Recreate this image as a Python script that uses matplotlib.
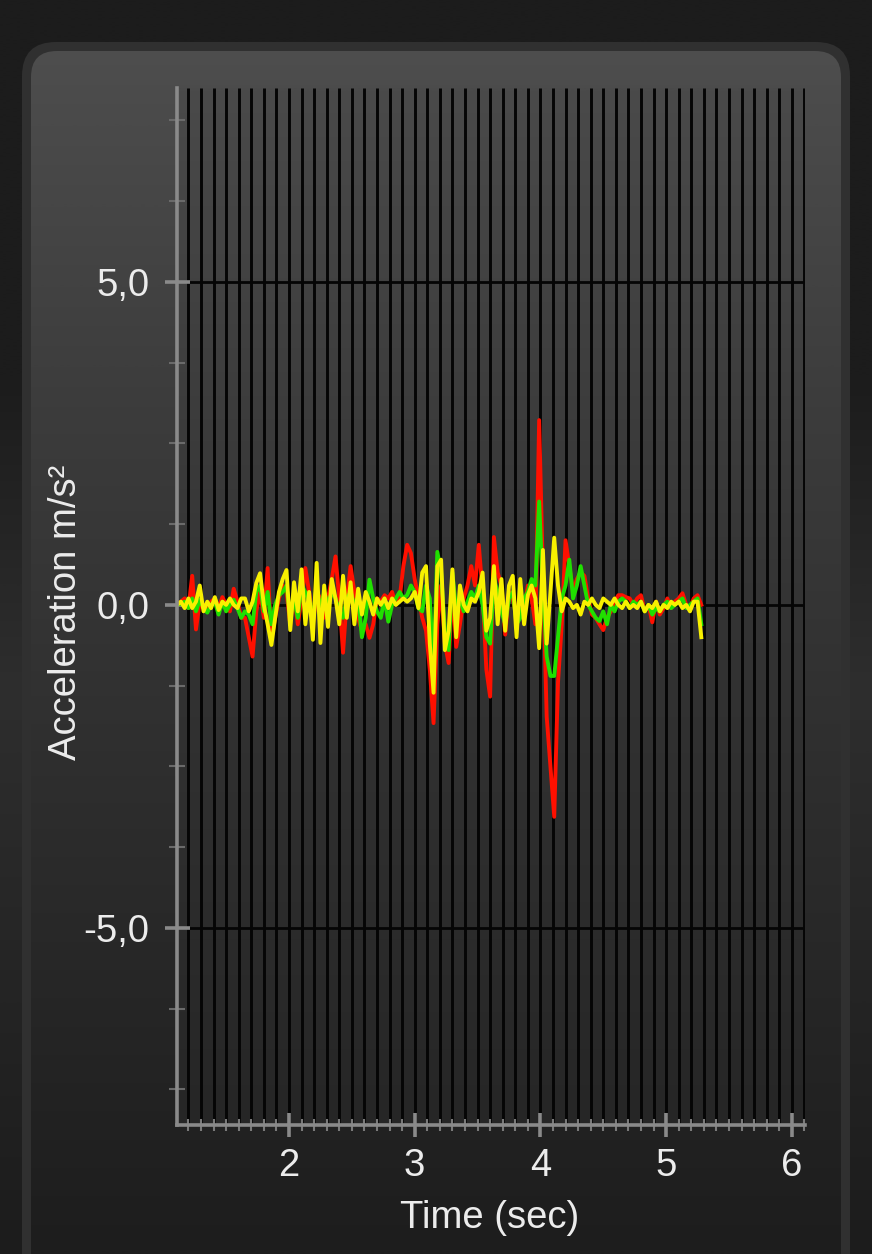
import numpy as np
import matplotlib
matplotlib.use("Agg")
import matplotlib.pyplot as plt
from matplotlib.patches import FancyBboxPatch
from matplotlib.colors import LinearSegmentedColormap

# ---------------- data ----------------
t_start = 1.11
dt = 0.03

red = [0.0, 0.05, 0.1, -0.05, 0.45, -0.38, 0.05, 0.0, -0.1, 0.05,
       0.1, -0.05, 0.12, 0.0, -0.1, 0.25, 0.05, -0.2, -0.2, -0.5,
       -0.8, -0.1, 0.2, -0.2, 0.57, -0.54, -0.2, 0.1, 0.3, 0.2,
       -0.3, 0.2, -0.3, 0.1, 0.57, 0.2, -0.3, 0.2, 0.1, -0.2,
       0.1, 0.4, 0.75, 0.1, -0.74, 0.1, 0.6, 0.2, -0.2, -0.4,
       -0.3, -0.51, -0.3, 0.1, 0.05, 0.15, 0.1, 0.2, 0.0, 0.1,
       0.6, 0.93, 0.8, 0.4, 0.1, -0.2, -0.4, -1.0, -1.83, -0.3,
       0.3, -0.6, -0.9, 0.3, -0.65, -0.3, 0.1, 0.3, 0.6, 0.3,
       0.93, 0.2, -1.0, -1.42, 1.05, 0.5, 0.3, -0.46, 0.2, 0.1,
       -0.2, 0.2, -0.1, 0.3, 0.1, -0.3, 2.86, 0.5, -1.73, -2.5,
       -3.28, -1.2, -0.3, 1.0, 0.6, 0.2, 0.4, 0.5, 0.45, 0.1,
       -0.15, -0.2, -0.3, -0.39, -0.2, -0.1, 0.05, 0.15, 0.15, 0.12,
       0.1, 0.0, 0.1, 0.15, -0.1, 0.0, -0.27, 0.05, -0.15, -0.05,
       0.1, -0.05, 0.05, 0.1, 0.18, 0.0, -0.05, 0.1, 0.15, 0.0]

green = [0.0, 0.02, 0.05, -0.05, 0.1, -0.1, 0.08, -0.05, -0.12, 0.0,
         0.05, -0.15, 0.05, -0.1, 0.0, 0.08, -0.05, -0.2, -0.1, -0.15,
         -0.3, 0.2, 0.3, -0.1, 0.2, -0.3, 0.0, 0.15, 0.2, 0.3,
         -0.2, 0.1, -0.2, 0.3, 0.2, 0.05, -0.2, 0.3, -0.1, 0.2,
         0.0, 0.2, 0.1, -0.1, -0.2, 0.1, 0.2, 0.0, 0.1, -0.5,
         -0.2, 0.39, 0.1, -0.1, -0.2, 0.1, -0.26, 0.0, 0.1, 0.2,
         0.1, 0.15, 0.3, 0.2, -0.05, -0.1, 0.3, 0.1, -1.0, 0.82,
         0.5, -0.4, -0.7, 0.5, -0.1, 0.1, -0.1, 0.05, 0.2, 0.1,
         0.3, 0.0, -0.5, -0.6, 0.4, 0.2, -0.1, -0.3, 0.1, 0.2,
         -0.3, -0.2, 0.1, 0.2, 0.4, 0.3, 1.6, 0.2, -0.8, -1.1,
         -1.1, -0.5, 0.1, 0.3, 0.7, 0.1, 0.3, 0.6, 0.3, 0.0,
         -0.1, -0.2, -0.25, -0.1, -0.3, 0.0, -0.1, 0.05, 0.1, 0.05,
         -0.05, 0.05, 0.0, 0.05, -0.1, 0.0, -0.15, -0.05, -0.1, 0.0,
         0.05, -0.05, 0.0, 0.05, 0.1, -0.05, 0.0, 0.05, 0.1, -0.3]

yellow = [0.0, 0.05, -0.05, 0.1, -0.05, 0.05, 0.3, -0.1, 0.05, -0.05,
          0.12, -0.08, 0.05, 0.0, 0.1, 0.0, -0.05, 0.1, 0.1, -0.1,
          0.05, 0.34, 0.49, 0.0, -0.3, -0.62, -0.2, 0.2, 0.4, 0.54,
          -0.39, 0.35, -0.1, 0.55, -0.3, 0.2, -0.54, 0.65, -0.59, 0.3,
          -0.34, 0.4, 0.1, -0.3, 0.45, -0.2, 0.35, -0.3, 0.25, -0.15,
          0.2, 0.05, -0.15, 0.1, 0.0, 0.1, -0.05, 0.1, 0.0, 0.05,
          0.1, 0.05, 0.1, 0.2, -0.05, 0.5, 0.6, -0.6, -1.36, 0.6,
          0.7, -0.7, -0.4, 0.55, -0.5, 0.3, 0.0, -0.1, 0.1, 0.05,
          0.2, 0.5, -0.4, -0.2, 0.6, -0.3, 0.4, -0.4, 0.3, 0.45,
          -0.5, 0.4, -0.3, 0.15, 0.3, 0.1, -0.67, 0.85, -0.6, 0.2,
          1.04, 0.3, -0.1, 0.1, 0.05, -0.05, 0.0, -0.15, 0.05, 0.0,
          0.1, 0.0, -0.05, 0.1, 0.05, 0.0, 0.1, 0.0, -0.05, 0.05,
          -0.05, 0.0, -0.05, 0.05, -0.1, 0.0, -0.05, 0.05, -0.1, 0.0,
          -0.05, 0.05, 0.0, 0.05, -0.05, 0.0, -0.1, 0.05, 0.05, -0.5]

time = t_start + dt * np.arange(len(red))

y_major = [-5.0, 0.0, 5.0]
y_major_labels = ["-5,0", "0,0", "5,0"]
x_major = [2, 3, 4, 5, 6]
x_major_labels = ["2", "3", "4", "5", "6"]
xlabel = "Time (sec)"
ylabel = "Acceleration m/s²"

# ---------------- figure ----------------
W, H = 872, 1254
fig = plt.figure(figsize=(W / 100, H / 100), dpi=100)
fig.patch.set_facecolor("#1b1b1b")
FONT = "Liberation Sans"
TXT = "#ececec"
FS = 27.5

bg = fig.add_axes([0, 0, 1, 1])
bg.set_xlim(0, W)
bg.set_ylim(H, 0)
bg.axis("off")

# subtle lighter sides of the backdrop
side_cmap = LinearSegmentedColormap.from_list(
    "side", [(0.0, "#1c1c1c"), (0.3, "#1c1c1c"), (0.55, "#2e2e2e"), (0.8, "#242424"), (1.0, "#1c1c1c")])
grad = np.linspace(0, 1, 512)[:, None]
bg.imshow(grad, cmap=side_cmap, aspect="auto", extent=[0, W, H, 0],
          interpolation="bilinear", zorder=0)

# outer rim of the panel
rim = FancyBboxPatch((22, 42), 828, 1330, boxstyle="round,pad=0,rounding_size=34",
                     fc="#303030", ec="none", zorder=1)
bg.add_patch(rim)
inner = FancyBboxPatch((31, 51), 810, 1320, boxstyle="round,pad=0,rounding_size=26",
                       fc="none", ec="none", zorder=1)
bg.add_patch(inner)
panel_cmap = LinearSegmentedColormap.from_list(
    "panel", [(0.0, "#4e4e4e"), (0.3, "#3c3c3c"), (0.65, "#2c2c2c"), (1.0, "#1d1d1d")])
im = bg.imshow(grad, cmap=panel_cmap, aspect="auto", extent=[22, 850, H, 42],
               interpolation="bilinear", zorder=2)
im.set_clip_path(inner)
bg.set_xlim(0, W)
bg.set_ylim(H, 0)

# ---------------- main axes ----------------
x0, x1 = 1.109, 6.105
y0, y1 = -8.05, 8.0
ax = fig.add_axes([177 / W, 1 - 1125 / H, (805 - 177) / W, (1125 - 88) / H])
ax.set_xlim(x0, x1)
ax.set_ylim(y0, y1)
ax.patch.set_visible(False)

plot_cmap = LinearSegmentedColormap.from_list(
    "plotbg", [(0.0, "#262626"), (0.5, "#343434"), (1.0, "#4a4a4a")])
ax.imshow(grad, cmap=plot_cmap, aspect="auto", extent=[x0, x1, y0, y1],
          origin="lower", interpolation="bilinear", zorder=0)

ax.vlines(np.arange(1.2, 6.11, 0.1), y0, y1, color="#050505", lw=2.1, zorder=1)
ax.hlines(y_major, 1.2, x1, color="#050505", lw=2.0, zorder=1)

ax.plot(time, red, color="#ff1000", lw=2.8, zorder=3, solid_joinstyle="round")
ax.plot(time, green, color="#20e000", lw=2.8, zorder=4, solid_joinstyle="round")
ax.plot(time, yellow, color="#f8f000", lw=2.8, zorder=5, solid_joinstyle="round")
ax.set_xlim(x0, x1)
ax.set_ylim(y0, y1)

for s in ["top", "right"]:
    ax.spines[s].set_visible(False)
for s in ["left", "bottom"]:
    ax.spines[s].set_color("#8a8a8a")
    ax.spines[s].set_linewidth(2.6)
    ax.spines[s].set_zorder(6)

ax.set_yticks(y_major)
ax.set_yticklabels(y_major_labels)
ax.set_yticks([v for v in np.arange(-7.5, 7.6, 1.25)
               if abs(v % 5) > 1e-6 and abs(v % 5 - 5) > 1e-6], minor=True)
ax.set_xticks(x_major)
ax.set_xticklabels(x_major_labels)
ax.set_xticks(np.arange(1.2, 6.11, 0.1), minor=True)

ax.tick_params(axis="y", which="major", direction="inout", length=18, width=2.6,
               color="#8a8a8a", labelcolor=TXT, labelsize=FS, pad=11)
ax.tick_params(axis="y", which="minor", direction="inout", length=11, width=1.5,
               color="#6a6a6a")
ax.tick_params(axis="x", which="major", direction="inout", length=17, width=2.6,
               color="#8a8a8a", labelcolor=TXT, labelsize=FS, pad=8)
ax.tick_params(axis="x", which="minor", direction="inout", length=9, width=1.5,
               color="#7a7a7a")
for lab in ax.get_xticklabels() + ax.get_yticklabels():
    lab.set_fontfamily(FONT)

fig.text(66 / W, 1 - 612 / H, ylabel, rotation=90, ha="center", va="center",
         fontsize=FS, color=TXT, family=FONT)
fig.text(490 / W, 1 - 1218 / H, xlabel, ha="center", va="center",
         fontsize=FS, color=TXT, family=FONT)

fig.savefig("out.png", dpi=100, facecolor=fig.get_facecolor())
